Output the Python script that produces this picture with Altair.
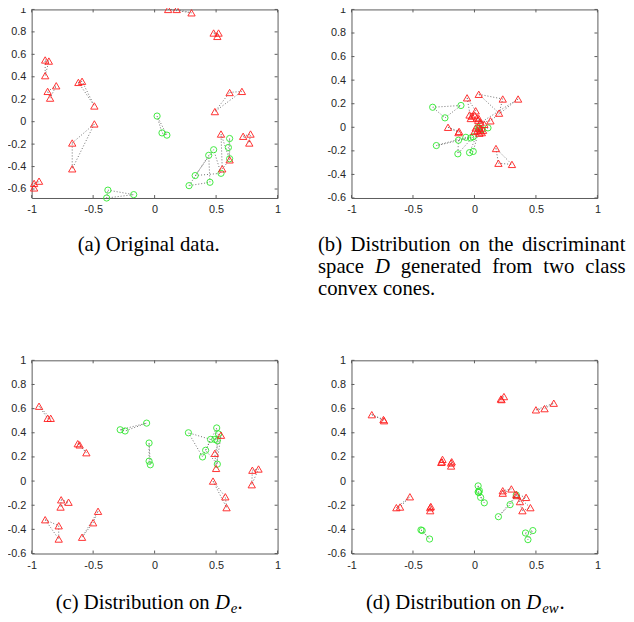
import altair as alt
import pandas as pd

# ---------------- data ----------------
XTICKS = [-1, -0.5, 0, 0.5, 1]
YTICKS = [-0.6, -0.4, -0.2, 0, 0.2, 0.4, 0.6, 0.8, 1]

# (a) original data: groups of three samples (red = class 1, green = class 2)
A_RED = [
    [(0.11, 1.0), (0.18, 1.0), (0.30, 0.97)],
    [(0.48, 0.79), (0.52, 0.79), (0.51, 0.76)],
    [(-0.89, 0.55), (-0.86, 0.54), (-0.89, 0.41)],
    [(-0.87, 0.27), (-0.80, 0.32), (-0.85, 0.21)],
    [(-0.62, 0.35), (-0.59, 0.36), (-0.49, 0.14)],
    [(-0.67, -0.19), (-0.49, -0.02), (-0.67, -0.42)],
    [(-0.98, -0.55), (-0.94, -0.53), (-0.98, -0.59)],
    [(0.61, 0.26), (0.71, 0.27), (0.49, 0.09)],
    [(0.72, -0.13), (0.78, -0.11), (0.77, -0.19)],
    [(0.54, -0.11), (0.61, -0.34), (0.55, -0.42)],
]
A_GREEN = [
    [(0.02, 0.05), (0.06, -0.10), (0.10, -0.12)],
    [(-0.38, -0.61), (-0.17, -0.65), (-0.39, -0.68)],
    [(0.61, -0.15), (0.60, -0.23), (0.61, -0.33)],
    [(0.28, -0.57), (0.44, -0.30), (0.45, -0.54)],
    [(0.33, -0.48), (0.54, -0.46), (0.48, -0.25)],
]

# (b) discriminant space D
B_RED = [
    [(0.035, 0.28), (0.23, 0.24), (0.20, 0.12)],
    [(0.355, 0.24), (0.13, 0.055), (0.05, 0.04)],
    [(-0.06, 0.25), (0.01, 0.14), (-0.03, 0.075)],
    [(-0.215, 0.0), (-0.125, -0.035), (-0.13, -0.045)],
    [(0.175, -0.18), (0.195, -0.305), (0.305, -0.315)],
    [(-0.04, 0.105), (-0.02, 0.095), (0.0, 0.105)],
    [(0.02, 0.08), (0.035, 0.075), (0.08, 0.025)],
    [(0.01, -0.005), (0.025, -0.025), (0.05, -0.03)],
    [(0.07, -0.025), (0.0, -0.035), (0.04, -0.05)],
    [(0.06, -0.045), (0.045, -0.01), (0.03, 0.06)],
]
B_GREEN = [
    [(-0.34, 0.17), (-0.11, 0.185), (-0.24, 0.08)],
    [(-0.31, -0.155), (-0.07, -0.085), (-0.03, -0.09)],
    [(-0.13, -0.11), (-0.135, -0.225), (-0.01, -0.08)],
    [(-0.04, -0.215), (-0.01, -0.205), (0.04, -0.01)],
    [(0.11, -0.005), (0.06, -0.02), (0.03, 0.0)],
]

# (c) distribution on D_e
C_RED = [
    [(-0.94, 0.62), (-0.87, 0.52), (-0.845, 0.52)],
    [(-0.625, 0.31), (-0.61, 0.30), (-0.555, 0.235)],
    [(-0.76, -0.155), (-0.70, -0.175), (-0.765, -0.215)],
    [(-0.89, -0.32), (-0.78, -0.37), (-0.78, -0.48)],
    [(-0.46, -0.25), (-0.50, -0.345), (-0.59, -0.465)],
    [(0.795, 0.09), (0.845, 0.10), (0.79, -0.03)],
    [(0.475, 0.0), (0.575, -0.13), (0.585, -0.22)],
    [(0.54, 0.38), (0.49, 0.23), (0.50, 0.105)],
]
C_GREEN = [
    [(-0.28, 0.425), (-0.24, 0.415), (-0.065, 0.48)],
    [(-0.045, 0.315), (-0.045, 0.165), (-0.035, 0.135)],
    [(0.275, 0.40), (0.39, 0.20), (0.455, 0.345)],
    [(0.415, 0.255), (0.505, 0.44), (0.51, 0.14)],
    [(0.49, 0.345), (0.51, 0.335), (0.52, 0.39)],
]

# (d) distribution on D_ew
D_RED = [
    [(-0.835, 0.55), (-0.74, 0.51), (-0.735, 0.50)],
    [(0.215, 0.68), (0.24, 0.70), (0.22, 0.675)],
    [(0.50, 0.59), (0.57, 0.60), (0.645, 0.645)],
    [(-0.26, 0.18), (-0.27, 0.155), (-0.265, 0.16)],
    [(-0.185, 0.16), (-0.19, 0.125), (-0.19, 0.15)],
    [(-0.525, -0.13), (-0.605, -0.215), (-0.635, -0.22)],
    [(-0.355, -0.21), (-0.36, -0.245), (-0.36, -0.22)],
    [(0.23, -0.08), (0.23, -0.10), (0.30, -0.065)],
    [(0.34, -0.11), (0.42, -0.135), (0.37, -0.17)],
    [(0.39, -0.245), (0.455, -0.22), (0.345, -0.12)],
]
D_GREEN = [
    [(0.03, -0.04), (0.03, -0.09), (0.04, -0.08)],
    [(0.05, -0.135), (0.08, -0.18), (0.035, -0.095)],
    [(0.195, -0.295), (0.29, -0.195), (0.34, -0.115)],
    [(-0.435, -0.405), (-0.425, -0.41), (-0.365, -0.48)],
    [(0.415, -0.43), (0.475, -0.41), (0.435, -0.485)],
]

CAPTION_A = "(a) Original data."
CAPTION_B = [["(b)", "Distribution", "on", "the", "discriminant"],
             ["space", "D", "generated", "from", "two", "class"]]
CAPTION_B_LAST = "convex cones."

# ---------------- styling / layout ----------------
W = 249.5
LABEL = "#262626"
FRAME = "#5a5a5a"
RED = "#ff1a1a"
GREEN = "#2ee82e"
SERIF = "Liberation Serif"
CAP = 21
SUB = 15
TICK = 3
ONE = pd.DataFrame({"k": [0]})

# Times / Liberation Serif advance widths (per em) used to set the captions
TW = {" ": .25, "(": .333, ")": .333, ".": .25, "a": .444, "b": .5, "c": .444, "d": .5,
      "e": .444, "f": .333, "g": .5, "h": .5, "i": .278, "l": .278, "m": .778, "n": .5,
      "o": .5, "p": .5, "r": .333, "s": .389, "t": .278, "u": .5, "v": .5, "w": .722,
      "x": .5, "D": .722, "O": .722}


def tw(s, size=CAP):
    return sum(TW.get(ch, .5) for ch in s) * size


def label_expr():
    return "datum.value < 0 ? '-' + format(-datum.value, '~g') : format(datum.value, '~g')"


def text(s, px, py, size=CAP, italic=False, align="left"):
    return alt.Chart(ONE).mark_text(
        text=s, font=SERIF, fontSize=size, fontStyle="italic" if italic else "normal",
        align=align, baseline="alphabetic", color="black",
    ).encode(x=alt.value(px), y=alt.value(py))


def justified(words, x0, x1, py, italic_words=("D",)):
    gap = (x1 - x0 - sum(tw(w) for w in words)) / (len(words) - 1)
    out, x = [], x0
    for w in words:
        out.append(text(w, x, py, italic=w in italic_words))
        x += tw(w) + gap
    return out


def panel(red, green, ydom, h, captions):
    pts, loops = [], []
    for cls, groups in (("r", red), ("g", green)):
        for gi, g in enumerate(groups):
            key = f"{cls}{gi}"
            for i, (x, y) in enumerate(g):
                pts.append(dict(cls=cls, x=x, y=y))
                loops.append(dict(grp=key, ord=i, x=x, y=y))
            loops.append(dict(grp=key, ord=len(g), x=g[0][0], y=g[0][1]))
    pts = pd.DataFrame(pts)
    loops = pd.DataFrame(loops)
    yt = [v for v in YTICKS if ydom[0] - 1e-9 <= v <= ydom[1] + 1e-9]

    xs = alt.Scale(domain=[-1, 1], nice=False, zero=False)
    ys = alt.Scale(domain=ydom, nice=False, zero=False)
    common = dict(domain=False, ticks=False, grid=False, labelFont="Liberation Sans",
                  labelFontSize=11, labelColor=LABEL, labelPadding=6, labelOverlap=False,
                  labelFlush=False, labelExpr=label_expr(), title=None)
    xax = alt.Axis(values=XTICKS, **common)
    yax = alt.Axis(values=yt, **common)
    X = lambda f: alt.X(f, type="quantitative", scale=xs, axis=xax, title=None)
    Y = lambda f: alt.Y(f, type="quantitative", scale=ys, axis=yax, title=None)

    lines = alt.Chart(loops).mark_line(
        stroke="#6e6e6e", strokeDash=[1, 2], strokeWidth=1
    ).encode(x=X("x"), y=Y("y"), detail="grp:N", order="ord:Q")

    reds = alt.Chart(pts[pts.cls == "r"]).mark_point(
        shape="triangle-up", color=RED, size=55, strokeWidth=1, filled=False, opacity=0.9
    ).encode(x=X("x"), y=Y("y"))
    greens = alt.Chart(pts[pts.cls == "g"]).mark_point(
        shape="circle", color=GREEN, size=40, strokeWidth=1, filled=False, opacity=0.9
    ).encode(x=X("x"), y=Y("y"))

    xt = pd.DataFrame({"v": XTICKS})
    ytd = pd.DataFrame({"v": yt})
    tk = dict(color=FRAME, strokeWidth=1)
    ticks = [
        alt.Chart(xt).mark_rule(**tk).encode(x=X("v"), y=alt.value(0), y2=alt.value(TICK)),
        alt.Chart(xt).mark_rule(**tk).encode(x=X("v"), y=alt.value(h), y2=alt.value(h - TICK)),
        alt.Chart(ytd).mark_rule(**tk).encode(y=Y("v"), x=alt.value(0), x2=alt.value(TICK)),
        alt.Chart(ytd).mark_rule(**tk).encode(y=Y("v"), x=alt.value(W), x2=alt.value(W - TICK)),
    ]
    return alt.layer(lines, *ticks, greens, reds, *captions).properties(width=W, height=h)


HTOP, HBOT = 191.3, 196.0

# captions, positions relative to each panel's plot origin
top_base = 245.0
cap_a = [text(CAPTION_A, 118.7, top_base, align="center")]
bx0, bx1, lead = -34.0, 278.0, 22.5
cap_b = (justified(CAPTION_B[0], bx0, bx1, top_base)
         + justified(CAPTION_B[1], bx0, bx1, top_base + lead)
         + [text(CAPTION_B_LAST, bx0, top_base + 2 * lead)])


def math_caption(prefix, sub, center, py):
    wd = tw(prefix + " ") + tw("D") + tw(sub, SUB) + tw(".")
    x = center - wd / 2
    xd = x + tw(prefix + " ")
    xs_ = xd + tw("D") + 1
    xp = xs_ + tw(sub, SUB)
    return [text(prefix, x, py), text("D", xd, py, italic=True),
            text(sub, xs_, py + 4, size=SUB, italic=True), text(".", xp, py)]


bot_base = 252.0
cap_c = math_caption("(c) Distribution on", "e", 118.7, bot_base)
cap_d = math_caption("(d) Distribution on", "ew", 115.0, bot_base)

pa = panel(A_RED, A_GREEN, [-0.68, 1], HTOP, cap_a)
pb = panel(B_RED, B_GREEN, [-0.6, 1], HTOP, cap_b)
pc = panel(C_RED, C_GREEN, [-0.6, 1], HBOT, cap_c)
pdd = panel(D_RED, D_GREEN, [-0.6, 1], HBOT, cap_d)

chart = alt.concat(
    pa, pb, pc, pdd, columns=2, bounds="flush",
    spacing={"row": 164.0, "column": 74.5},
).properties(
    padding={"left": -2, "top": -10, "right": 0, "bottom": 0},
).configure_view(stroke=FRAME, strokeWidth=1).resolve_scale(x="independent", y="independent")

chart.save("out.html", embed_options={"renderer": "svg", "actions": False})
